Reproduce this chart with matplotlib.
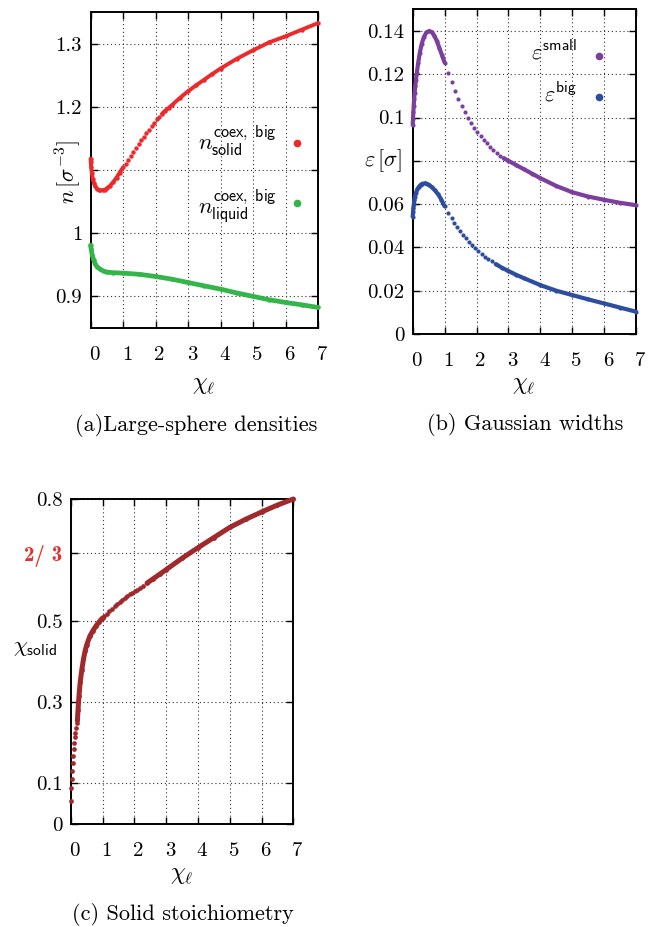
import matplotlib
matplotlib.use("Agg")
import matplotlib.pyplot as plt
import matplotlib.transforms as mtransforms
import numpy as np

plt.rcParams["font.family"] = "cmr10"
plt.rcParams["mathtext.fontset"] = "cm"
plt.rcParams["axes.unicode_minus"] = False
plt.rcParams["axes.formatter.use_mathtext"] = True

# ---- (a) large-sphere coexistence densities ----
sol_x = [0.0, 0.01, 0.02, 0.04, 0.07, 0.10, 0.15, 0.20, 0.25, 0.30, 0.38, 0.45, 0.50, 0.60, 0.70, 0.80, 0.90, 1.00,
         1.08, 1.16, 1.24, 1.32, 1.40, 1.48, 1.56, 1.64, 1.72, 1.80, 1.88, 1.96, 2.04, 2.12, 2.20,
         2.30, 2.40, 2.50, 2.75, 3.00, 3.25, 3.50, 3.75, 4.00, 4.50, 5.00, 5.50, 6.00, 6.50, 7.00]
sol_y = [1.118, 1.112, 1.105, 1.095, 1.086, 1.080, 1.074, 1.070, 1.069, 1.068, 1.068, 1.069, 1.071, 1.075, 1.081, 1.088, 1.096, 1.104,
         1.110, 1.116, 1.122, 1.128, 1.135, 1.141, 1.147, 1.152, 1.158, 1.164, 1.169, 1.175, 1.180, 1.184, 1.189,
         1.194, 1.198, 1.2025, 1.214, 1.2246, 1.234, 1.243, 1.252, 1.2605, 1.276, 1.2894, 1.302, 1.3115, 1.322, 1.3325]

liq_x = [0.0, 0.02, 0.05, 0.10, 0.15, 0.20, 0.30, 0.40, 0.50, 0.70, 1.00, 1.50, 2.00, 2.50, 3.00, 3.50, 4.00, 4.50,
         5.00, 5.50, 6.00, 6.50, 7.00]
liq_y = [0.981, 0.975, 0.966, 0.957, 0.951, 0.947, 0.943, 0.940, 0.9385, 0.9375, 0.9368, 0.9350, 0.9315, 0.9273, 0.9220,
         0.9167, 0.9115, 0.9055, 0.9000, 0.8947, 0.8904, 0.8867, 0.8825]

# ---- (b) Gaussian widths ----
sm_x = [0.00, 0.01, 0.02, 0.03, 0.045, 0.06, 0.08, 0.10, 0.13, 0.17, 0.22, 0.28, 0.35, 0.43, 0.52, 0.60, 0.68, 0.76, 0.84, 0.92, 1.00,
        1.12, 1.22, 1.33, 1.43, 1.54, 1.63, 1.73, 1.83, 1.92, 2.03, 2.13, 2.23, 2.32, 2.42, 2.53, 2.63, 2.73,
        2.85, 3.00, 3.25, 3.50, 3.75, 4.00, 4.50, 5.00, 5.50, 6.00, 6.50, 7.00]
sm_y = [0.0966, 0.0995, 0.1025, 0.1052, 0.1085, 0.1113, 0.1145, 0.1172, 0.1208, 0.1250, 0.1297, 0.1339, 0.1372, 0.1393, 0.1400,
        0.1394, 0.1378, 0.1352, 0.1320, 0.1287, 0.1254,
        0.1207, 0.1163, 0.1123, 0.1086, 0.1054, 0.1024, 0.0997, 0.0974, 0.0953, 0.0933, 0.0915, 0.0897, 0.0881, 0.0866,
        0.0850, 0.0838, 0.0824,
        0.0812, 0.0800, 0.0780, 0.0760, 0.0740, 0.0720, 0.0684, 0.0655, 0.0635, 0.0620, 0.0606, 0.0595]

bg_x = [0.00, 0.01, 0.02, 0.035, 0.05, 0.07, 0.10, 0.15, 0.20, 0.25, 0.30, 0.38, 0.45, 0.52, 0.60, 0.70, 0.80, 0.90, 1.00,
        1.12, 1.22, 1.31, 1.40, 1.48, 1.57, 1.66, 1.75, 1.85, 1.95, 2.06, 2.16, 2.27, 2.37, 2.48,
        2.60, 2.80, 3.00, 3.25, 3.50, 4.00, 4.50, 5.00, 5.50, 6.00, 6.50, 7.00]
bg_y = [0.0541, 0.0562, 0.0580, 0.0600, 0.0617, 0.0634, 0.0652, 0.0670, 0.0681, 0.0689, 0.0694, 0.0696, 0.0694, 0.0688,
        0.0678, 0.0663, 0.0645, 0.0620, 0.0590,
        0.0560, 0.0537, 0.0515, 0.0495, 0.0477, 0.0458, 0.0442, 0.0426, 0.0411, 0.0395, 0.0383, 0.0370, 0.0357, 0.0346, 0.0335,
        0.0323, 0.0306, 0.0291, 0.0273, 0.0257, 0.0226, 0.0200, 0.0180, 0.0160, 0.0141, 0.0122, 0.0103]

# ---- (c) solid stoichiometry ----
chi_x = [0.005, 0.02, 0.035, 0.05, 0.065, 0.08, 0.095, 0.11, 0.13, 0.15, 0.17, 0.19, 0.21, 0.23, 0.26, 0.30, 0.35, 0.40,
         0.45, 0.50, 0.60, 0.70, 0.80, 0.90, 1.00,
         1.06, 1.14, 1.22, 1.30, 1.38, 1.46, 1.54, 1.62, 1.70, 1.78, 1.86, 1.94, 2.02, 2.10, 2.18, 2.26,
         2.40, 2.60, 2.80, 3.00, 3.50, 4.00, 4.50, 5.00, 5.50, 6.00, 6.50, 7.00]
chi_y = [0.057, 0.088, 0.110, 0.131, 0.151, 0.168, 0.184, 0.199, 0.213, 0.225, 0.237, 0.248, 0.255, 0.280, 0.315, 0.350,
         0.380, 0.405, 0.425, 0.440, 0.462, 0.476, 0.488, 0.498, 0.507,
         0.512, 0.518, 0.524, 0.530, 0.536, 0.541, 0.546, 0.551, 0.556, 0.561, 0.565, 0.569, 0.573, 0.577, 0.581, 0.585,
         0.593, 0.604, 0.615, 0.626, 0.654, 0.680, 0.705, 0.730, 0.750, 0.768, 0.785, 0.800]

RED = "#ec2a2c"
GREEN = "#33b54a"
PURPLE = "#7d3f9d"
BLUE = "#2e4da1"
BROWN = "#a2292b"

W, H = 657, 927
fig = plt.figure(figsize=(W / 100, H / 100), dpi=100)


def px_axes(l, t, r, b):
    return fig.add_axes([l / W, 1 - b / H, (r - l) / W, (b - t) / H])


def draw_series(ax, x, y, color, dense, ms=3.0, lw=2.8):
    x = np.asarray(x)
    y = np.asarray(y)
    for lo, hi in dense:
        m = (x >= lo) & (x <= hi)
        ax.plot(x[m], y[m], "-", color=color, lw=lw, solid_capstyle="round",
                solid_joinstyle="round", zorder=3, clip_on=False)
    ax.plot(x, y, "o", color=color, ms=ms, mec="none", zorder=3, clip_on=False)


def style_axes(ax, yticks, ylabels, ylim):
    ax.set_xlim(0, 7)
    ax.set_ylim(*ylim)
    ax.set_xticks(range(8))
    ax.set_xticklabels([str(i) for i in range(8)])
    ax.set_yticks(yticks)
    ax.set_yticklabels(ylabels)
    ax.tick_params(direction="in", length=5, width=1, top=True, right=True, labelsize=15)
    ax.tick_params(axis="x", pad=13)
    ax.tick_params(axis="y", pad=6)
    for s in ax.spines.values():
        s.set_linewidth(1.4)
    ax.grid(True, linestyle=(0, (1, 2.5)), color="#333333", lw=0.8)
    ax.set_axisbelow(True)
    off = mtransforms.ScaledTranslation(4 / 100, 0, fig.dpi_scale_trans)
    for lbl in ax.get_xticklabels():
        lbl.set_transform(lbl.get_transform() + off)


def ftext(x, y, s, **kw):
    fig.text(x / W, 1 - y / H, s, **kw)


# (a)
ax_a = px_axes(90.5, 12, 318, 328)
draw_series(ax_a, sol_x, sol_y, RED, [(0, 1.0), (2.2, 7)], ms=3.2, lw=2.8)
draw_series(ax_a, liq_x, liq_y, GREEN, [(0, 7)], ms=3.2, lw=3.4)
style_axes(ax_a, [0.9, 1.0, 1.1, 1.2, 1.3], ["0.9", "1", "", "1.2", "1.3"], (0.85, 1.35))
ax_a.text(0.82, 0.563, r"$n^{\mathsf{coex,\ big}}_{\mathsf{solid}}$", transform=ax_a.transAxes,
          ha="right", va="baseline", fontsize=16.5)
ax_a.plot([0.906], [0.585], "o", ms=5.5, color=RED, mec="none", transform=ax_a.transAxes, clip_on=False)
ax_a.text(0.82, 0.363, r"$n^{\mathsf{coex,\ big}}_{\mathsf{liquid}}$", transform=ax_a.transAxes,
          ha="right", va="baseline", fontsize=16.5)
ax_a.plot([0.906], [0.395], "o", ms=5.5, color=GREEN, mec="none", transform=ax_a.transAxes, clip_on=False)
ftext(68, 172, r"$n\,[\sigma^{-3}]$", rotation=90, ha="center", va="center", fontsize=16)
ftext(204, 385, r"$\chi_\ell$", ha="center", va="center", fontsize=17)
ftext(196, 425, "(a)Large-sphere densities", ha="center", va="center", fontsize=16)

# (b)
ax_b = px_axes(412.7, 9.3, 636, 334)
draw_series(ax_b, sm_x, sm_y, PURPLE, [(0, 1.0), (2.8, 7)], ms=3.0, lw=3.0)
draw_series(ax_b, bg_x, bg_y, BLUE, [(0, 1.0), (2.5, 7)], ms=3.0, lw=3.0)
style_axes(ax_b, [0, 0.02, 0.04, 0.06, 0.08, 0.10, 0.12, 0.14],
           ["0", "0.02", "0.04", "0.06", "", "0.1", "0.12", "0.14"], (0, 0.15))
ax_b.text(0.737, 0.844, r"$\varepsilon^{\mathsf{small}}$", transform=ax_b.transAxes,
          ha="right", va="baseline", fontsize=16)
ax_b.plot([0.836], [0.857], "o", ms=5.5, color=PURPLE, mec="none", transform=ax_b.transAxes, clip_on=False)
ax_b.text(0.737, 0.715, r"$\varepsilon^{\mathsf{big}}$", transform=ax_b.transAxes,
          ha="right", va="baseline", fontsize=16)
ax_b.plot([0.836], [0.729], "o", ms=5.5, color=BLUE, mec="none", transform=ax_b.transAxes, clip_on=False)
ftext(402, 161, r"$\varepsilon\,[\sigma]$", ha="right", va="center", fontsize=16)
ftext(524, 385, r"$\chi_\ell$", ha="center", va="center", fontsize=17)
ftext(525, 424, "(b) Gaussian widths", ha="center", va="center", fontsize=16)

# (c)
ax_c = px_axes(70.7, 499, 293.3, 824)
draw_series(ax_c, chi_x, chi_y, BROWN, [(0.2, 1.0), (2.3, 7)], ms=3.4, lw=3.6)
style_axes(ax_c, [0, 0.1, 0.3, 0.5, 2 / 3, 0.8],
           ["0", "0.1", "0.3", "0.5", "2/ 3", "0.8"], (0, 0.8))
frac_lbl = ax_c.get_yticklabels()[4]
frac_lbl.set_color("#ee2b2b")
frac_lbl.set_fontfamily("cmb10")
ftext(57, 648, r"$\chi_{\mathsf{solid}}$", ha="right", va="center", fontsize=16)
ftext(182, 875, r"$\chi_\ell$", ha="center", va="center", fontsize=17)
ftext(183, 914, "(c) Solid stoichiometry", ha="center", va="center", fontsize=16)

fig.savefig("out.png", dpi=100)
